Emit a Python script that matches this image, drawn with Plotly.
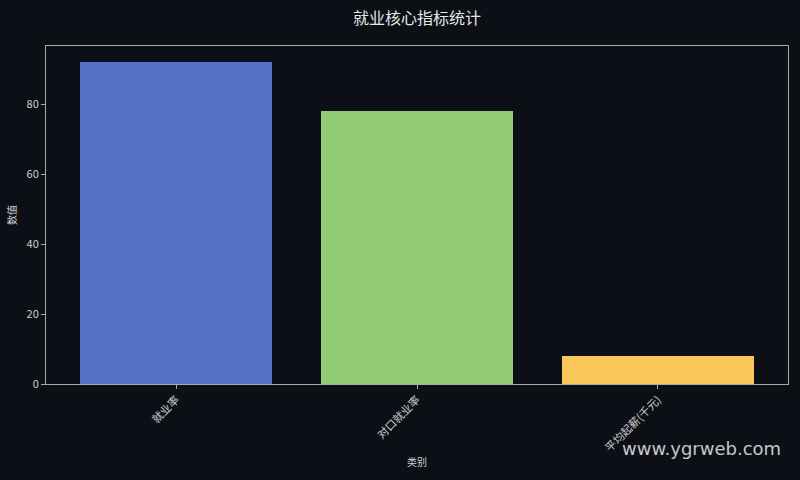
import plotly.graph_objects as go

categories = ["就业率", "对口就业率", "平均起薪(千元)"]
values = [92, 78, 8]
colors = ["#5470c6", "#91cc75", "#fac858"]

bg = "#0c0f15"
fg = "#d0d0d0"
font = "Noto Sans CJK SC"

fig = go.Figure()
fig.add_trace(go.Bar(x=list(range(len(categories))), y=values, width=0.8,
                     marker=dict(color=colors, line=dict(width=0)),
                     showlegend=False))

fig.update_layout(
    width=800, height=480,
    paper_bgcolor=bg, plot_bgcolor=bg,
    margin=dict(l=46, r=12, t=46, b=96),
    font=dict(family=font, color=fg, size=10),
    title=dict(text="就业核心指标统计", xref="paper", x=0.5, xanchor="center",
               y=0.962, yanchor="middle", font=dict(size=16, color="#e8e8e8")),
    bargap=0,
)
fig.update_xaxes(
    range=[-0.54, 2.54], tickmode="array", tickvals=list(range(len(categories))),
    ticktext=categories, tickangle=-45, ticks="outside", ticklen=4,
    tickcolor="#aaaaaa", tickfont=dict(size=11), showgrid=False, zeroline=False,
    showline=True, linecolor="#aaaaaa", linewidth=1, mirror=True, automargin=False,
    title=dict(text="类别", font=dict(size=10), standoff=5),
)
fig.update_yaxes(
    range=[0, 96.6], dtick=20, ticks="outside", ticklen=4,
    tickcolor="#aaaaaa", tickfont=dict(size=11), showgrid=False, zeroline=False,
    showline=True, linecolor="#aaaaaa", linewidth=1, mirror=True, automargin=False,
    title=dict(text="数值", font=dict(size=10), standoff=8),
)
fig.add_annotation(text="www.ygrweb.com", xref="paper", yref="paper",
                   x=0.993, y=-0.19, xanchor="right", yanchor="middle",
                   showarrow=False,
                   font=dict(family="DejaVu Sans", size=18, color="rgba(235,235,235,0.85)"))

fig.write_html("out.html", config={"displayModeBar": False},
               post_script="document.body.style.margin='0';"
                           "document.body.style.background='%s';" % bg)
